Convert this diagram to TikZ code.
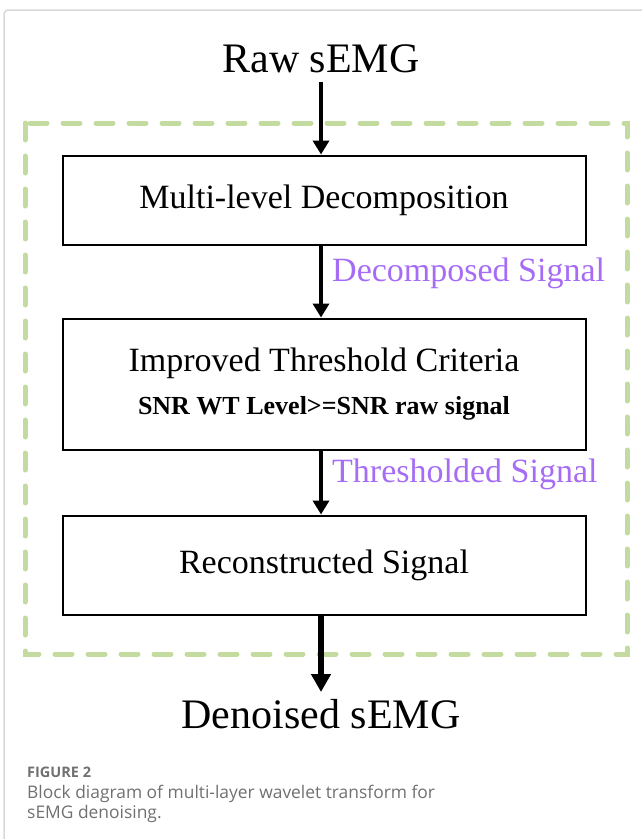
\documentclass[tikz,border=0pt]{standalone}
\usepackage{fontspec}
\setmainfont{Liberation Serif}
\newfontfamily\capfont{Open Sans}
\usepackage{xcolor}
\usetikzlibrary{positioning,calc,arrows.meta}
\definecolor{sigpurple}{RGB}{166,108,246}
\definecolor{groupgreen}{RGB}{196,219,160}
\definecolor{framegray}{RGB}{216,216,216}
\definecolor{capgray}{RGB}{112,112,112}

\begin{document}
\begin{tikzpicture}[x=1pt, y=-1pt,
    block/.style={draw, line width=2pt, minimum width=523pt, inner sep=0pt, align=center, font=\fontsize{34}{40}\selectfont},
    flow/.style={line width=4pt, -{Triangle[length=14pt,width=16pt]}},
    siglabel/.style={anchor=base west, inner sep=0pt, text=sigpurple, font=\fontsize{34}{40}\selectfont},
    io/.style={anchor=base, inner sep=0pt, font=\fontsize{42}{48}\selectfont},
    group/.style={draw=groupgreen, line width=5pt, dash pattern=on 17pt off 16pt, line cap=round},
    captext/.style={anchor=base west, inner sep=0pt, align=left, text=capgray}]
    \useasboundingbox (0,0) rectangle (641,839);

    % page frame
    \draw[framegray, line width=1.5pt, rounded corners=4pt] (4,845) -- (4,10) -- (650,10);

    % denoising stage
    \draw[group] (25,123) rectangle (627,654);

    % input
    \node[io] (raw) at (321,72) {Raw sEMG};

    % blocks
    \node[block, minimum height=89pt] (decomp) at (324,200) {Multi-level Decomposition};
    \node[block, minimum height=131pt, below=72pt of decomp] (thresh) {Improved Threshold Criteria\\[3pt]
        {\fontsize{26}{30}\selectfont\bfseries SNR WT Level>=SNR raw signal}};
    \node[block, minimum height=99pt, below=64pt of thresh] (recon) {Reconstructed Signal};

    % output
    \node[io] (den) at (321,728) {Denoised sEMG};

    % arrows
    \draw[flow] ([yshift=-10pt]raw.base) -- (raw.base |- decomp.north);
    \draw[flow] (decomp.south -| raw.base) -- (thresh.north -| raw.base);
    \draw[flow] (thresh.south -| raw.base) -- (recon.north -| raw.base);
    \draw[flow, line width=6pt, -{Triangle[length=18pt,width=19pt]}] (recon.south -| raw.base) -- ([yshift=36pt]den.base);

    % signal labels
    \node[siglabel] (declbl) at (332,281) {Decomposed Signal};
    \node[siglabel] (thrlbl) at (332,482) {Thresholded Signal};

    % caption
    \node[captext, font=\capfont\bfseries\fontsize{14.5}{16}\selectfont] (figno) at (27,777.5) {FIGURE 2};
    \node[captext, font=\capfont\fontsize{17.4}{20.5}\selectfont] (caption) at (27,818.5) {Block diagram of multi-layer wavelet transform for\\sEMG denoising.};
\end{tikzpicture}
\end{document}
